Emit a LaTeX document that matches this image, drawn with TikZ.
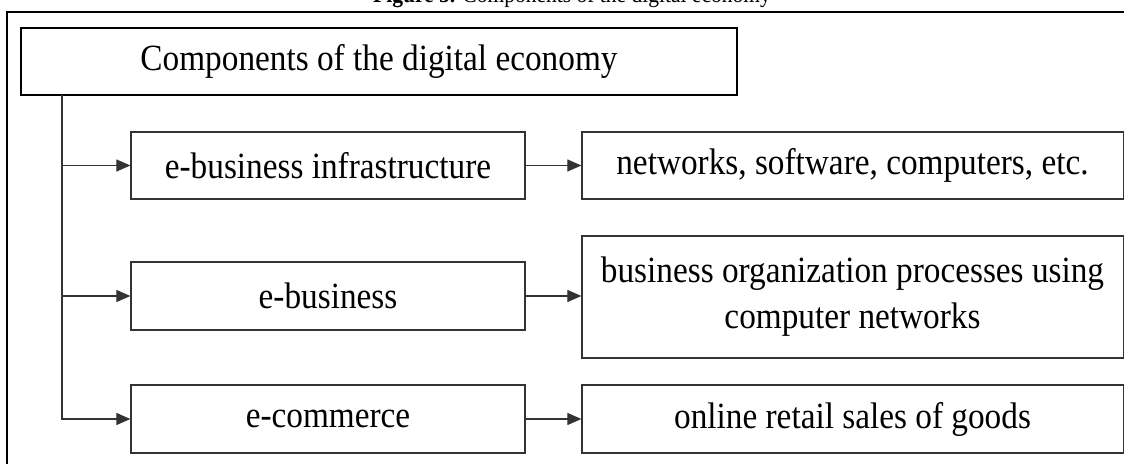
\documentclass[tikz,border=0pt]{standalone}
\usepackage{fontspec}
\setmainfont[FakeStretch=0.9]{Liberation Serif}
\usetikzlibrary{arrows.meta}

\begin{document}
\begin{tikzpicture}[x=0.025cm, y=0.025cm,
            every node/.style={inner sep=0pt},
            box/.style={draw=black!80, line width=0.8pt, minimum height=1.675cm, align=center,
              font=\fontsize{26.3}{32.7}\selectfont},
            leftbox/.style={box, minimum width=9.85cm},
            rightbox/.style={box, minimum width=13.525cm},
            link/.style={draw=black!80, line width=0.75pt, -{Triangle[length=0.35cm,width=0.3cm]}}]
            \useasboundingbox (0,0) rectangle (1124,-464);
            \draw [black, line width=1.4pt] (7,-12) rectangle (1140,-480);
            \node [anchor=base, font=\fontsize{17}{20}\selectfont] (caption) at (572,-3)
              {\textbf{Figure 5.} Components of the digital economy};
            \node [box, line width=1pt, draw=black, minimum width=17.9cm] (title) at (379,-61.5)
              {Components of the digital economy};
            \node [leftbox] (infra) at (328,-165.5) {e-business infrastructure};
            \node [leftbox, minimum height=1.7cm] (ebiz) at (328,-296) {e-business};
            \node [leftbox, minimum height=1.7cm] (ecom) at (328,-419) {e-commerce};
            \node [rightbox] (net) at (852.5,-165.5) {networks, software, computers, etc.};
            \node [rightbox, minimum height=3.05cm] (proc) at (852.5,-297)
              {business organization processes using\\computer networks};
            \node [rightbox, minimum height=1.7cm] (sales) at (852.5,-419) {online retail sales of goods};
            \coordinate (spine) at (62,-95);
            \draw [link] (spine) |- (ecom.west);
            \draw [link] (spine |- infra.west) -- (infra.west);
            \draw [link] (spine |- ebiz.west) -- (ebiz.west);
            \draw [link] (infra.east) -- (net.west);
            \draw [link] (ebiz.east) -- (ebiz.east -| proc.west);
            \draw [link] (ecom.east) -- (sales.west);
\end{tikzpicture}
\end{document}
